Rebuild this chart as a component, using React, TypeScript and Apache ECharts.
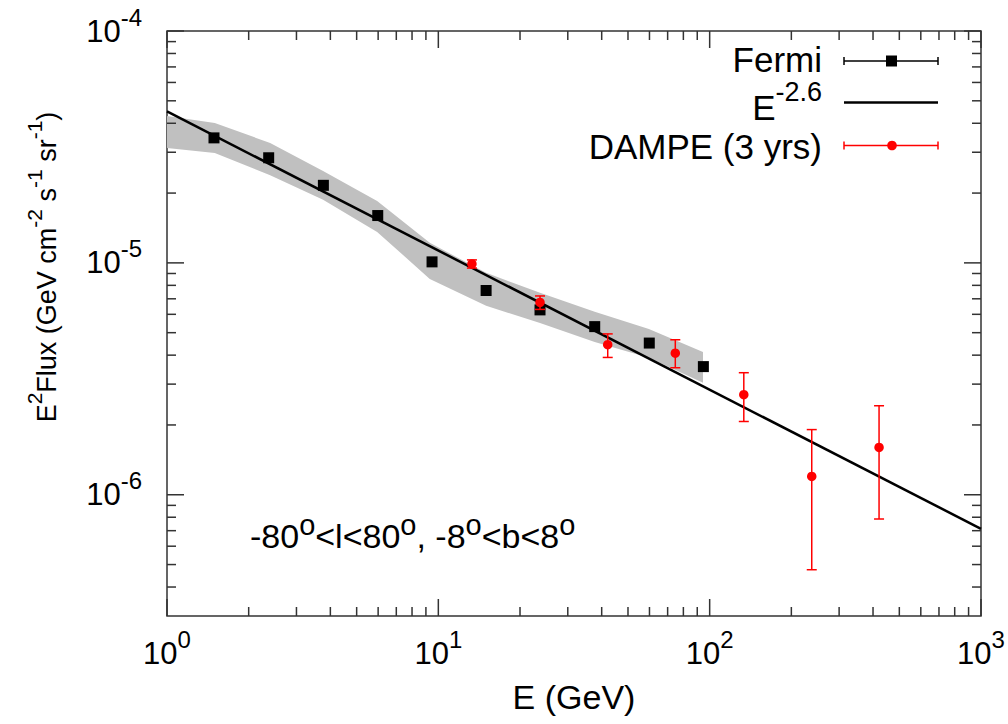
import React, { useEffect, useRef } from 'react';
import * as echarts from 'echarts';

// ---------------- data ----------------
const FERMI_E = [1.49, 2.37, 3.77, 5.98, 9.48, 15.0, 23.7, 37.7, 59.9, 94.8];
const FERMI_F = [3.46e-5, 2.84e-5, 2.16e-5, 1.6e-5, 1.01e-5, 7.6e-6, 6.27e-6, 5.31e-6, 4.51e-6, 3.57e-6];

const DAMPE_E = [13.3, 23.7, 42.1, 74.7, 133.6, 237.8, 421];
const DAMPE_F = [9.9e-6, 6.75e-6, 4.44e-6, 4.08e-6, 2.7e-6, 1.2e-6, 1.6e-6];
const DAMPE_LO = [9.5e-6, 6.3e-6, 3.91e-6, 3.53e-6, 2.07e-6, 4.75e-7, 7.86e-7];
const DAMPE_HI = [1.03e-5, 7.2e-6, 4.94e-6, 4.66e-6, 3.36e-6, 1.91e-6, 2.42e-6];

const BAND_E = [1, 1.5, 2.4, 3.76, 5.95, 9.3, 15, 23.7, 37.7, 59.7, 94.5];
const BAND_HI = [4.3e-5, 4.01e-5, 3.29e-5, 2.49e-5, 1.85e-5, 1.22e-5, 9.06e-6, 7.43e-6, 6.15e-6, 5.19e-6, 4.13e-6];
const BAND_LO = [3.13e-5, 2.98e-5, 2.39e-5, 1.87e-5, 1.36e-5, 8.53e-6, 6.53e-6, 5.51e-6, 4.56e-6, 3.9e-6, 3.04e-6];

const LINE_E = [1, 1000];
const LINE_F = [4.5e-5, 7.13e-7];

const X_MIN = 1;
const X_MAX = 1000;
const Y_MIN = 3e-7;
const Y_MAX = 1e-4;

const X_MAJOR = [1, 10, 100, 1000];
const X_MINOR = [2, 3, 4, 5, 6, 7, 8, 9, 20, 30, 40, 50, 60, 70, 80, 90, 200, 300, 400, 500, 600, 700, 800, 900];
const Y_MAJOR = [1e-6, 1e-5, 1e-4];
const Y_MINOR = [
  4e-7, 5e-7, 6e-7, 7e-7, 8e-7, 9e-7,
  2e-6, 3e-6, 4e-6, 5e-6, 6e-6, 7e-6, 8e-6, 9e-6,
  2e-5, 3e-5, 4e-5, 5e-5, 6e-5, 7e-5, 8e-5, 9e-5,
];

const FONT = '"Liberation Sans", Arial, sans-serif';
const AXIS_COLOR = '#333';

function supLabel(v: number) {
  const e = Math.log10(v);
  const r = Math.round(e);
  if (Math.abs(e - r) > 1e-6) return '';
  return `{b|10}{s|${r}}`;
}

const tickRich = {
  b: { fontSize: 31, fontFamily: FONT, color: '#000', lineHeight: 52, verticalAlign: 'middle' },
  s: { fontSize: 24, fontFamily: FONT, color: '#000', lineHeight: 24, verticalAlign: 'top' },
};

function richPair(main: number, sup: number, lh: number) {
  return {
    m: { fontSize: main, fontFamily: FONT, fill: '#000', color: '#000', lineHeight: lh, verticalAlign: 'middle' },
    s: { fontSize: sup, fontFamily: FONT, fill: '#000', color: '#000', lineHeight: sup, verticalAlign: 'top' },
  };
}

export default function App() {
  const ref = useRef<HTMLDivElement>(null);

  useEffect(() => {
    if (!ref.current) return;
    const chart = echarts.init(ref.current, null, { renderer: 'svg' });

    const tickStyle = { stroke: AXIS_COLOR, lineWidth: 1.5 };

    const option: any = {
      animation: false,
      backgroundColor: '#fff',
      textStyle: { fontFamily: FONT },
      grid: {
        left: 167,
        right: 27,
        top: 31,
        bottom: 108,
        show: true,
        borderColor: AXIS_COLOR,
        borderWidth: 1.5,
        backgroundColor: 'transparent',
      },
      xAxis: {
        type: 'log',
        logBase: 10,
        min: X_MIN,
        max: X_MAX,
        splitNumber: 3,
        axisLine: { show: false },
        axisTick: { show: false },
        splitLine: { show: false },
        axisLabel: {
          formatter: supLabel,
          rich: tickRich,
          margin: 11,
          showMinLabel: true,
          showMaxLabel: true,
        },
        name: 'E (GeV)',
        nameLocation: 'middle',
        nameGap: 64,
        nameTextStyle: { fontSize: 34, fontFamily: FONT, color: '#000' },
      },
      yAxis: {
        type: 'log',
        logBase: 10,
        min: Y_MIN,
        max: Y_MAX,
        splitNumber: 3,
        axisLine: { show: false },
        axisTick: { show: false },
        splitLine: { show: false },
        axisLabel: {
          formatter: supLabel,
          rich: tickRich,
          margin: 25,
          showMinLabel: true,
          showMaxLabel: true,
        },
      },
      graphic: [
        // y-axis title
        {
          type: 'text',
          x: 47,
          y: 267,
          rotation: Math.PI / 2,
          style: {
            text: '{m|E}{s|2}{m|Flux (GeV cm}{s|-2}{m| s}{s|-1}{m| sr}{s|-1}{m|)}',
            align: 'center',
            verticalAlign: 'middle',
            rich: richPair(27, 21, 46),
          },
        },
        // annotation
        {
          type: 'text',
          x: 250,
          y: 536,
          style: {
            text: '{m|-80}{s|o}{m|<l<80}{s|o}{m|, -8}{s|o}{m|<b<8}{s|o}',
            align: 'left',
            verticalAlign: 'middle',
            rich: richPair(34, 29, 51),
          },
        },
        // legend: Fermi
        {
          type: 'text',
          x: 822,
          y: 59,
          style: { text: 'Fermi', font: `35px ${FONT}`, fill: '#000', align: 'right', verticalAlign: 'middle' },
        },
        { type: 'line', shape: { x1: 844, y1: 61, x2: 938, y2: 61 }, style: { stroke: '#000', lineWidth: 1.5 } },
        { type: 'line', shape: { x1: 844, y1: 57, x2: 844, y2: 65 }, style: { stroke: '#000', lineWidth: 1.5 } },
        { type: 'line', shape: { x1: 938, y1: 57, x2: 938, y2: 65 }, style: { stroke: '#000', lineWidth: 1.5 } },
        { type: 'rect', shape: { x: 886, y: 55.5, width: 11, height: 11 }, style: { fill: '#000' } },
        // legend: E^-2.6
        {
          type: 'text',
          x: 822,
          y: 107.5,
          style: {
            text: '{m|E}{s|-2.6}',
            align: 'right',
            verticalAlign: 'middle',
            rich: richPair(35, 27, 59),
          },
        },
        { type: 'line', shape: { x1: 844, y1: 102.5, x2: 938, y2: 102.5 }, style: { stroke: '#000', lineWidth: 2.5 } },
        // legend: DAMPE
        {
          type: 'text',
          x: 822,
          y: 146,
          style: { text: 'DAMPE (3 yrs)', font: `35px ${FONT}`, fill: '#000', align: 'right', verticalAlign: 'middle' },
        },
        { type: 'line', shape: { x1: 844, y1: 145.5, x2: 938, y2: 145.5 }, style: { stroke: '#ff0000', lineWidth: 1.5 } },
        { type: 'line', shape: { x1: 844, y1: 141.5, x2: 844, y2: 149.5 }, style: { stroke: '#ff0000', lineWidth: 1.5 } },
        { type: 'line', shape: { x1: 938, y1: 141.5, x2: 938, y2: 149.5 }, style: { stroke: '#ff0000', lineWidth: 1.5 } },
        { type: 'circle', shape: { cx: 892, cy: 145.5, r: 4.8 }, style: { fill: '#ff0000' } },
      ],
      series: [
        {
          name: 'Fermi band',
          type: 'custom',
          silent: true,
          z: 1,
          data: BAND_E.map((e, i) => [e, BAND_LO[i], BAND_HI[i]]),
          renderItem: (params: any, api: any) => {
            if (params.dataIndex !== 0) return null;
            const upper = BAND_E.map((e, i) => api.coord([e, BAND_HI[i]]));
            const lower = BAND_E.map((e, i) => api.coord([e, BAND_LO[i]])).reverse();
            return {
              type: 'polygon',
              shape: { points: upper.concat(lower) },
              style: { fill: '#c0c0c0' },
            };
          },
        },
        {
          name: 'x ticks',
          type: 'custom',
          silent: true,
          z: 5,
          clip: false,
          data: [
            ...X_MAJOR.map((v) => [v, 1e-5, 1]),
            ...X_MINOR.map((v) => [v, 1e-5, 0]),
          ],
          renderItem: (params: any, api: any) => {
            const cs = params.coordSys;
            const x = api.coord([api.value(0), 1e-5])[0];
            const len = api.value(2) ? 17 : 9;
            const bottom = cs.y + cs.height;
            return {
              type: 'group',
              children: [
                { type: 'line', shape: { x1: x, y1: bottom, x2: x, y2: bottom - len }, style: tickStyle },
                { type: 'line', shape: { x1: x, y1: cs.y, x2: x, y2: cs.y + len }, style: tickStyle },
              ],
            };
          },
        },
        {
          name: 'y ticks',
          type: 'custom',
          silent: true,
          z: 5,
          clip: false,
          data: [
            ...Y_MAJOR.map((v) => [10, v, 1]),
            ...Y_MINOR.map((v) => [10, v, 0]),
          ],
          renderItem: (params: any, api: any) => {
            const cs = params.coordSys;
            const y = api.coord([10, api.value(1)])[1];
            const len = api.value(2) ? 17 : 9;
            const right = cs.x + cs.width;
            return {
              type: 'group',
              children: [
                { type: 'line', shape: { x1: cs.x, y1: y, x2: cs.x + len, y2: y }, style: tickStyle },
                { type: 'line', shape: { x1: right, y1: y, x2: right - len, y2: y }, style: tickStyle },
              ],
            };
          },
        },
        {
          name: 'Fermi',
          type: 'scatter',
          z: 3,
          symbol: 'rect',
          symbolSize: 11,
          itemStyle: { color: '#000', opacity: 1 },
          data: FERMI_E.map((e, i) => [e, FERMI_F[i]]),
        },
        {
          name: 'E^-2.6',
          type: 'line',
          z: 4,
          symbol: 'none',
          lineStyle: { color: '#000', width: 2.5 },
          data: LINE_E.map((e, i) => [e, LINE_F[i]]),
        },
        {
          name: 'DAMPE error',
          type: 'custom',
          z: 6,
          data: DAMPE_E.map((e, i) => [e, DAMPE_LO[i], DAMPE_HI[i]]),
          renderItem: (params: any, api: any) => {
            const e = api.value(0);
            const lo = api.coord([e, api.value(1)]);
            const hi = api.coord([e, api.value(2)]);
            const st = { stroke: '#ff0000', lineWidth: 1.5 };
            const hw = 5;
            return {
              type: 'group',
              children: [
                { type: 'line', shape: { x1: lo[0], y1: lo[1], x2: hi[0], y2: hi[1] }, style: st },
                { type: 'line', shape: { x1: hi[0] - hw, y1: hi[1], x2: hi[0] + hw, y2: hi[1] }, style: st },
                { type: 'line', shape: { x1: lo[0] - hw, y1: lo[1], x2: lo[0] + hw, y2: lo[1] }, style: st },
              ],
            };
          },
        },
        {
          name: 'DAMPE (3 yrs)',
          type: 'scatter',
          z: 7,
          symbol: 'circle',
          symbolSize: 9.5,
          itemStyle: { color: '#ff0000', opacity: 1 },
          data: DAMPE_E.map((e, i) => [e, DAMPE_F[i]]),
        },
      ],
    };

    chart.setOption(option);
    return () => chart.dispose();
  }, []);

  return (
    <div
      ref={ref}
      style={{ position: 'fixed', left: 0, top: 0, width: 1008, height: 724, background: '#fff' }}
    />
  );
}
